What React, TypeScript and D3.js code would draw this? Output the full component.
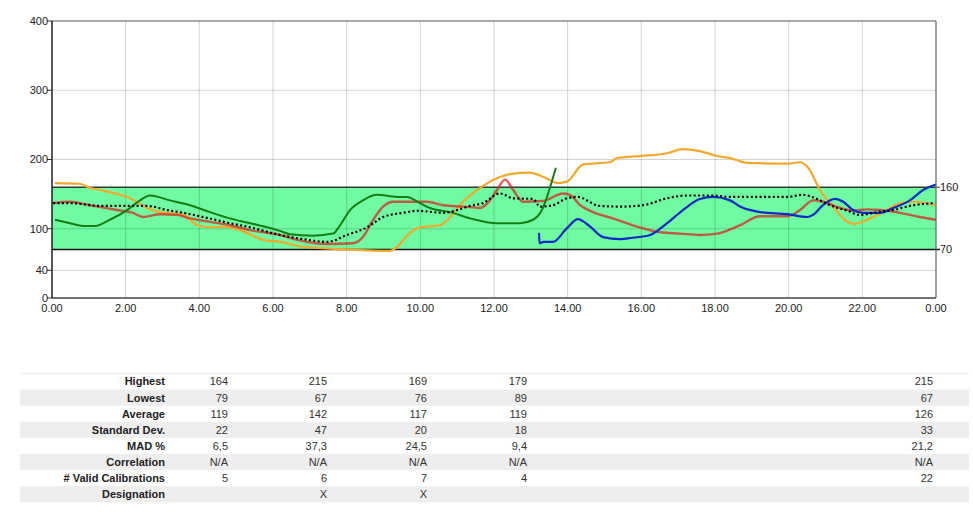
import React from "react";
import * as d3 from "d3";

// ---------- data ----------
const xTickHours = [0, 2, 4, 6, 8, 10, 12, 14, 16, 18, 20, 22, 24];
const yTicks = [0, 40, 100, 200, 300, 400];
const gridY = [40, 100, 200, 300];
const targetLow = 70;
const targetHigh = 160;

type P = [number, number];

const orangeSeries: P[] = [
  [0.08, 166], [0.76, 165], [1.03, 159], [1.3, 156], [2.12, 144], [2.58, 130], [2.93, 124],
  [3.56, 120], [3.94, 105], [4.29, 102], [4.64, 103], [5.1, 98], [5.73, 84], [6.19, 81],
  [6.82, 74], [8.01, 70], [9.18, 68], [9.37, 74], [9.72, 94], [9.99, 102], [10.53, 105],
  [10.89, 122], [11.16, 139], [11.62, 159], [12.08, 173], [12.44, 179], [12.98, 181],
  [13.33, 175], [13.74, 166], [13.98, 168], [14.42, 193], [15.15, 196], [15.34, 202],
  [15.96, 205], [16.7, 209], [17.13, 215], [17.59, 212], [18.06, 205], [18.41, 202],
  [18.87, 195], [19.96, 194], [20.31, 196], [20.53, 188], [20.85, 156], [21.21, 132],
  [21.59, 110], [21.75, 107], [22.21, 115], [22.56, 124], [23.03, 137], [23.38, 139], [23.98, 134],
];

const redSeries: P[] = [
  [0.03, 137], [0.49, 139], [1.03, 134], [1.76, 127], [2.2, 123], [2.47, 117], [2.93, 121],
  [3.39, 120], [3.75, 115], [4.29, 110], [4.83, 105], [5.38, 98], [6.19, 91], [6.65, 84],
  [7.47, 78], [8.17, 79], [8.44, 88], [8.72, 113], [8.99, 132], [9.26, 139], [9.91, 139],
  [10.18, 139], [10.62, 134], [11.16, 132], [11.62, 130], [11.89, 141], [12.08, 156],
  [12.3, 171], [12.52, 156], [12.79, 139], [13.33, 140], [13.87, 151], [14.06, 149],
  [14.34, 134], [14.69, 124], [15.23, 115], [15.77, 105], [16.51, 95], [17.05, 93],
  [17.59, 91], [18.06, 93], [18.41, 99], [18.68, 105], [19.22, 118], [19.96, 118],
  [20.31, 127], [20.66, 141], [20.93, 139], [21.4, 130], [21.75, 126], [22.13, 128],
  [22.48, 127], [23.03, 123], [23.57, 117], [24, 113],
];

const greenSeries: P[] = [
  [0.08, 113], [0.49, 108], [0.84, 104], [1.17, 104], [1.57, 113], [2.04, 127], [2.39, 141],
  [2.66, 148], [3.2, 141], [3.75, 134], [4.29, 124], [4.83, 115], [5.38, 108], [6.19, 97],
  [6.46, 92], [7.09, 90], [7.63, 93], [7.82, 105], [8.09, 127], [8.44, 141], [8.82, 149],
  [9.37, 146], [9.64, 146], [9.99, 137], [10.26, 130], [10.81, 124], [11.35, 115],
  [12.08, 108], [12.71, 108], [13.06, 113], [13.3, 127], [13.44, 146], [13.58, 170], [13.68, 188],
];

const blueSeries: P[] = [
  [13.22, 94], [13.24, 79], [13.35, 81], [13.6, 81], [13.98, 101], [14.28, 114], [14.61, 103],
  [14.96, 88], [15.42, 85], [15.77, 87], [16.24, 91], [16.7, 108], [17.13, 127], [17.59, 143],
  [17.95, 146], [18.41, 141], [18.68, 132], [19.22, 124], [19.96, 121], [20.5, 117],
  [20.66, 120], [20.93, 134], [21.26, 143], [21.48, 139], [21.75, 127], [22.02, 123],
  [22.48, 123], [22.84, 130], [23.29, 141], [23.65, 156], [24, 164],
];

const averageSeries: P[] = [
  [0.03, 137], [0.49, 137], [1.3, 133], [2.58, 133], [3.12, 127], [3.56, 123], [4.1, 117],
  [4.83, 108], [5.38, 102], [6.19, 91], [6.82, 85], [7.47, 81], [8.01, 91], [8.55, 102],
  [8.99, 117], [9.53, 123], [9.91, 126], [10.62, 123], [11.0, 127], [11.35, 133], [11.7, 137],
  [12.16, 151], [12.52, 144], [13.06, 143], [13.25, 132], [13.6, 134], [13.98, 144],
  [14.25, 146], [14.88, 133], [15.42, 132], [16.05, 134], [16.7, 144], [17.24, 148],
  [17.95, 148], [18.41, 146], [19.03, 146], [19.96, 146], [20.39, 149], [20.77, 143],
  [21.12, 134], [21.59, 126], [21.94, 120], [22.4, 124], [22.84, 127], [23.38, 134], [23.98, 137],
];

const rowLabels = [
  "Highest", "Lowest", "Average", "Standard Dev.", "MAD %", "Correlation",
  "# Valid Calibrations", "Designation",
];
const col1 = ["164", "79", "119", "22", "6,5", "N/A", "5", ""];
const col2 = ["215", "67", "142", "47", "37,3", "N/A", "6", "X"];
const col3 = ["169", "76", "117", "20", "24,5", "N/A", "7", "X"];
const col4 = ["179", "89", "119", "18", "9,4", "N/A", "4", ""];
const colTotal = ["215", "67", "126", "33", "21,2", "N/A", "22", ""];

// ---------- layout ----------
const W = 973;
const H = 532;
const left = 52;
const right = 936;
const top = 21;
const bottom = 298;
const FONT = "Arial, 'Liberation Sans', sans-serif";

export default function App() {
  const x = d3.scaleLinear().domain([0, 24]).range([left, right]);
  const y = d3.scaleLinear().domain([0, 400]).range([bottom, top]);
  const line = d3
    .line<P>()
    .x((d) => x(d[0]))
    .y((d) => y(d[1]))
    .curve(d3.curveMonotoneX);

  const series = [
    { data: orangeSeries, color: "#f2a92e", opacity: 1, w: 2.2 },
    { data: redSeries, color: "#dc1e1e", opacity: 0.72, w: 2.4 },
    { data: greenSeries, color: "#147f14", opacity: 1, w: 2 },
    { data: blueSeries, color: "#0c2cc4", opacity: 1, w: 2.2 },
  ];

  const tableTop = 373.5;
  const rowH = 16.1;
  const tableLeft = 20;
  const tableRight = 969;
  const colRights = [228, 327, 427, 527, 933];
  const cols = [col1, col2, col3, col4, colTotal];

  return (
    <svg
      width={W}
      height={H}
      style={{ position: "absolute", left: 0, top: 0, background: "#fff" }}
      fontFamily={FONT}
    >
      {/* target band */}
      <rect
        x={left}
        y={y(targetHigh)}
        width={right - left}
        height={y(targetLow) - y(targetHigh)}
        fill="#70fba2"
      />
      {/* grid */}
      {xTickHours.slice(1, -1).map((h) => (
        <line key={"gx" + h} x1={x(h)} x2={x(h)} y1={top} y2={bottom} stroke="#000" strokeOpacity={0.17} />
      ))}
      {gridY.map((v) => (
        <line key={"gy" + v} x1={left} x2={right} y1={y(v)} y2={y(v)} stroke="#000" strokeOpacity={0.17} />
      ))}
      {/* band borders */}
      <line x1={left} x2={right} y1={y(targetHigh)} y2={y(targetHigh)} stroke="#2d3d2d" strokeWidth={1.5} />
      <line x1={left} x2={right + 4} y1={y(targetLow)} y2={y(targetLow)} stroke="#111" strokeWidth={1.5} />
      <line x1={right} x2={right + 4} y1={y(targetHigh)} y2={y(targetHigh)} stroke="#333" strokeWidth={1} />

      {/* series */}
      {series.map((s, i) => (
        <path
          key={i}
          d={line(s.data) || ""}
          fill="none"
          stroke={s.color}
          strokeOpacity={s.opacity}
          strokeWidth={s.w}
          strokeLinejoin="round"
        />
      ))}
      <path
        d={line(averageSeries) || ""}
        fill="none"
        stroke="#000"
        strokeWidth={2.2}
        strokeDasharray="2,2.4"
      />

      {/* frame */}
      <line x1={left} x2={right} y1={top} y2={top} stroke="#555" strokeWidth={1.2} />
      <line x1={right} x2={right} y1={top} y2={bottom} stroke="#666" strokeWidth={1.2} />
      <line x1={left} x2={right} y1={bottom} y2={bottom} stroke="#444" strokeWidth={1.6} />
      <line x1={left} x2={left} y1={top} y2={bottom} stroke="#111" strokeWidth={1.4} />

      {/* y ticks */}
      {yTicks.map((v) => (
        <g key={"yt" + v}>
          <line x1={left - 5} x2={left} y1={y(v)} y2={y(v)} stroke="#333" />
          <text x={left - 4} y={y(v)} dy="0.35em" textAnchor="end" fontSize={11} fill="#222">
            {v}
          </text>
        </g>
      ))}
      {/* x ticks */}
      {xTickHours.map((h) => (
        <text key={"xt" + h} x={x(h)} y={bottom + 14} textAnchor="middle" fontSize={11} fill="#222">
          {(h % 24).toFixed(2)}
        </text>
      ))}
      {/* right band labels */}
      <text x={right + 4} y={y(targetHigh)} dy="0.35em" fontSize={11} fill="#222">
        {targetHigh}
      </text>
      <text x={right + 4} y={y(targetLow)} dy="0.35em" fontSize={11} fill="#222">
        {targetLow}
      </text>

      {/* table */}
      <line x1={tableLeft} x2={tableRight} y1={tableTop} y2={tableTop} stroke="#eee" strokeWidth={1} />
      {rowLabels.map((lab, r) => {
        const ry = tableTop + r * rowH;
        return (
          <g key={"row" + r}>
            {r % 2 === 1 && (
              <rect x={tableLeft} y={ry} width={tableRight - tableLeft} height={rowH} fill="#eeeeee" />
            )}
            <text
              x={165}
              y={ry + rowH / 2}
              dy="0.35em"
              textAnchor="end"
              fontSize={11}
              fontWeight="bold"
              fill="#222"
            >
              {lab}
            </text>
            {cols.map((c, ci) => (
              <text
                key={ci}
                x={colRights[ci]}
                y={ry + rowH / 2}
                dy="0.35em"
                textAnchor="end"
                fontSize={11}
                fill="#333"
              >
                {c[r]}
              </text>
            ))}
          </g>
        );
      })}
    </svg>
  );
}
